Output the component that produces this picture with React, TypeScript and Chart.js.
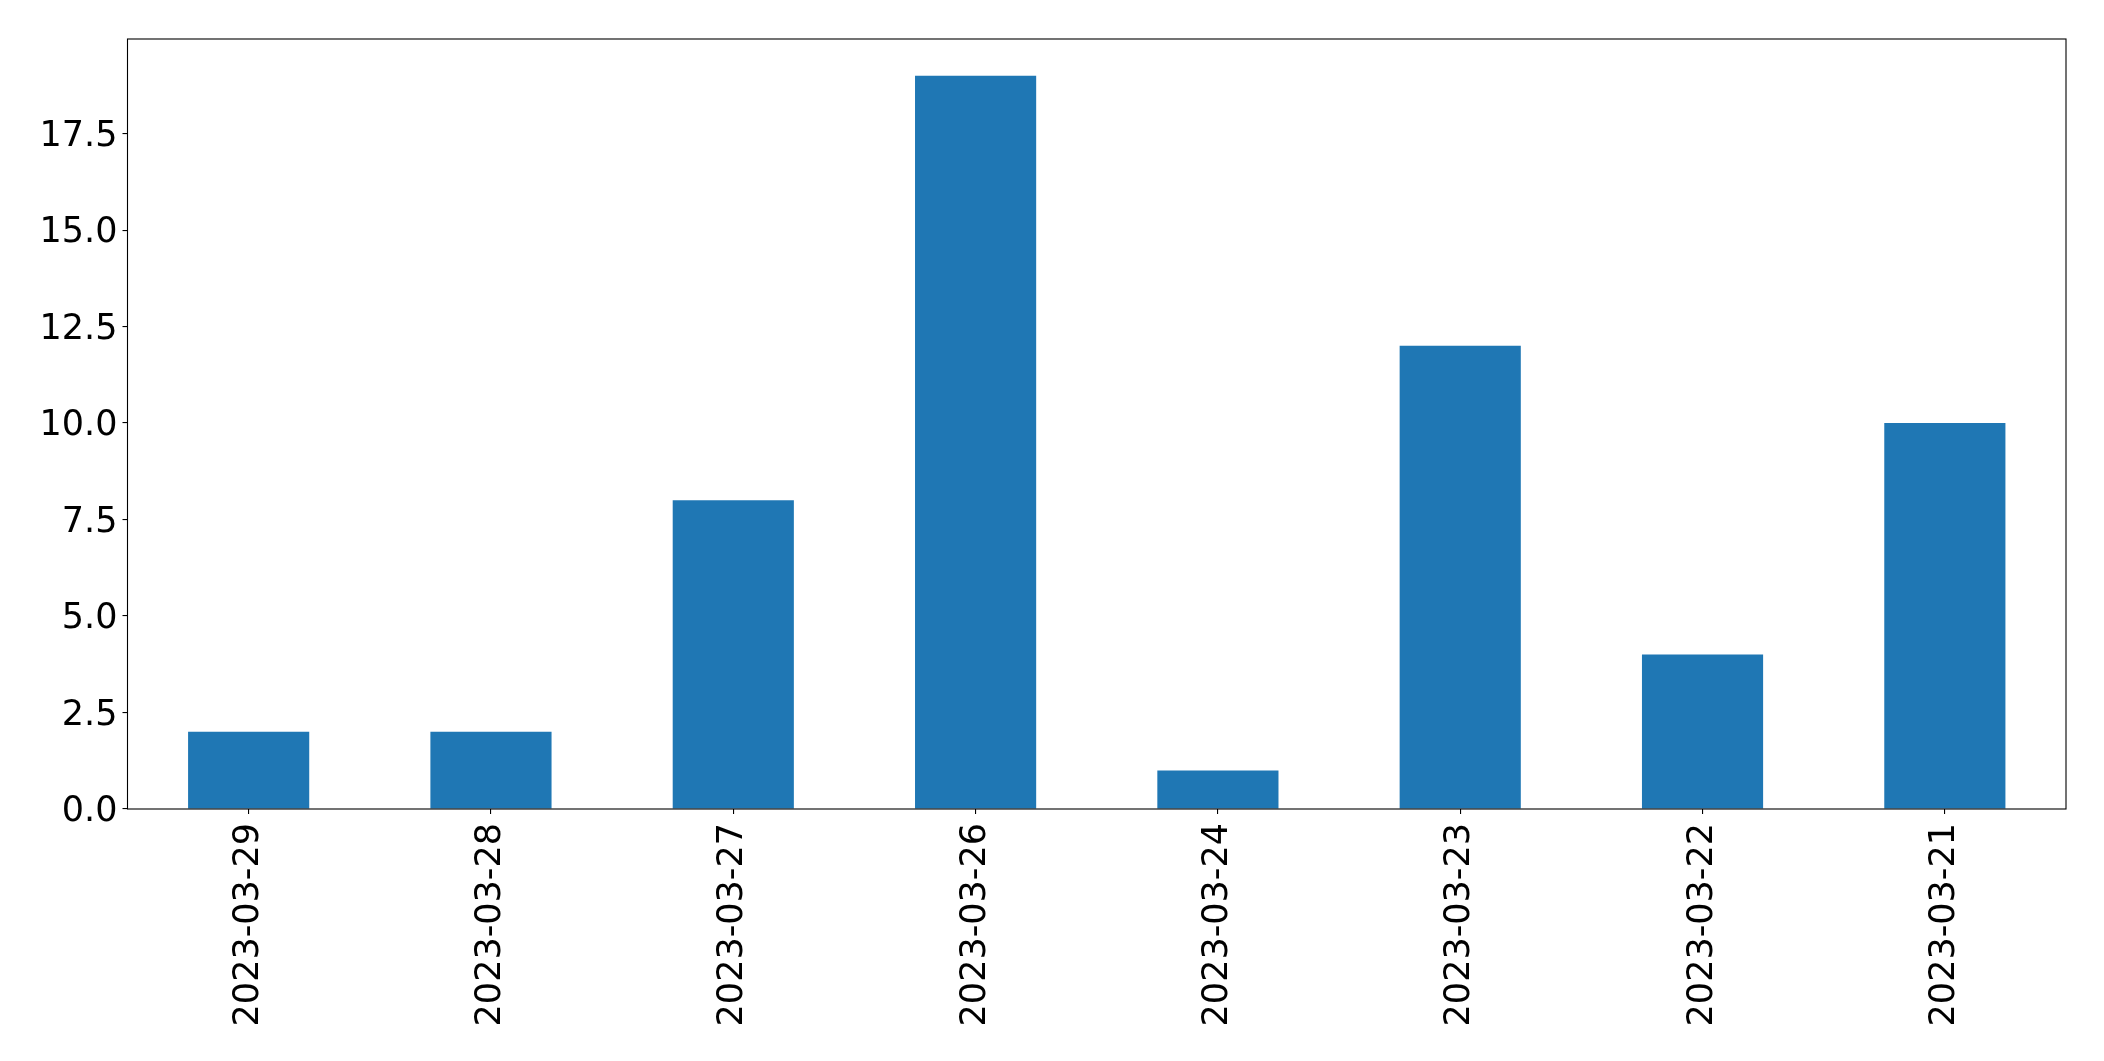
import React, { useEffect, useRef } from "react";
import { Chart, registerables } from "chart.js";

Chart.register(...registerables);

const categories = [
  "2023-03-29",
  "2023-03-28",
  "2023-03-27",
  "2023-03-26",
  "2023-03-24",
  "2023-03-23",
  "2023-03-22",
  "2023-03-21",
];
const values = [2, 2, 8, 19, 1, 12, 4, 10];
const yMax = 19.95;
const yStep = 2.5;

const W = 2104;
const H = 1061;
const LEFT = 127.5;
const TOP = 39;
const RIGHT = 2066;
const BOTTOM = 809;
const FONT = "'DejaVu Sans', sans-serif";
const FONT_SIZE = 35;

const framePlugin = {
  id: "frame",
  afterDraw(chart: any) {
    const { ctx, chartArea } = chart;
    ctx.save();
    ctx.strokeStyle = "#000";
    ctx.lineWidth = 1.1;
    ctx.strokeRect(chartArea.left, chartArea.top, chartArea.right - chartArea.left, chartArea.bottom - chartArea.top);
    ctx.restore();
  },
};

export default function App() {
  const ref = useRef<HTMLCanvasElement | null>(null);
  useEffect(() => {
    if (!ref.current) return;
    const chart = new Chart(ref.current, {
      type: "bar",
      data: {
        labels: categories,
        datasets: [
          {
            data: values,
            backgroundColor: "#1f77b4",
            borderWidth: 0,
            barPercentage: 0.5,
            categoryPercentage: 1.0,
          },
        ],
      },
      options: {
        animation: false,
        responsive: false,
        maintainAspectRatio: false,
        devicePixelRatio: 1,
        layout: { padding: { top: TOP, right: W - RIGHT, bottom: 0, left: 0 } },
        plugins: { legend: { display: false }, tooltip: { enabled: false } },
        scales: {
          x: {
            offset: true,
            grid: { display: true, offset: false, drawOnChartArea: false, drawTicks: true, tickLength: 5, color: "#000", lineWidth: 1.1 },
            border: { display: false },
            ticks: {
              color: "#000",
              font: { family: FONT, size: FONT_SIZE },
              maxRotation: 90,
              minRotation: 90,
              autoSkip: false,
              padding: 9,
            },
            afterFit(scale: any) {
              scale.height = H - BOTTOM;
            },
          },
          y: {
            min: 0,
            max: yMax,
            grid: { display: true, drawOnChartArea: false, drawTicks: true, tickLength: 5, color: "#000", lineWidth: 1.1 },
            border: { display: false },
            ticks: {
              stepSize: yStep,
              color: "#000",
              font: { family: FONT, size: FONT_SIZE },
              padding: 5,
              labelOffset: 3,
              callback: (v: any) => Number(v).toFixed(1),
            },
            afterBuildTicks(scale: any) {
              scale.ticks = scale.ticks.filter((t: any) => Math.abs(t.value / yStep - Math.round(t.value / yStep)) < 1e-6);
            },
            afterFit(scale: any) {
              scale.width = LEFT;
            },
          },
        },
      },
      plugins: [framePlugin],
    });
    return () => chart.destroy();
  }, []);
  return (
    <div style={{ position: "absolute", left: 0, top: 0, width: W, height: H, background: "#fff" }}>
      <canvas ref={ref} width={W} height={H} style={{ width: W, height: H, display: "block" }} />
    </div>
  );
}
